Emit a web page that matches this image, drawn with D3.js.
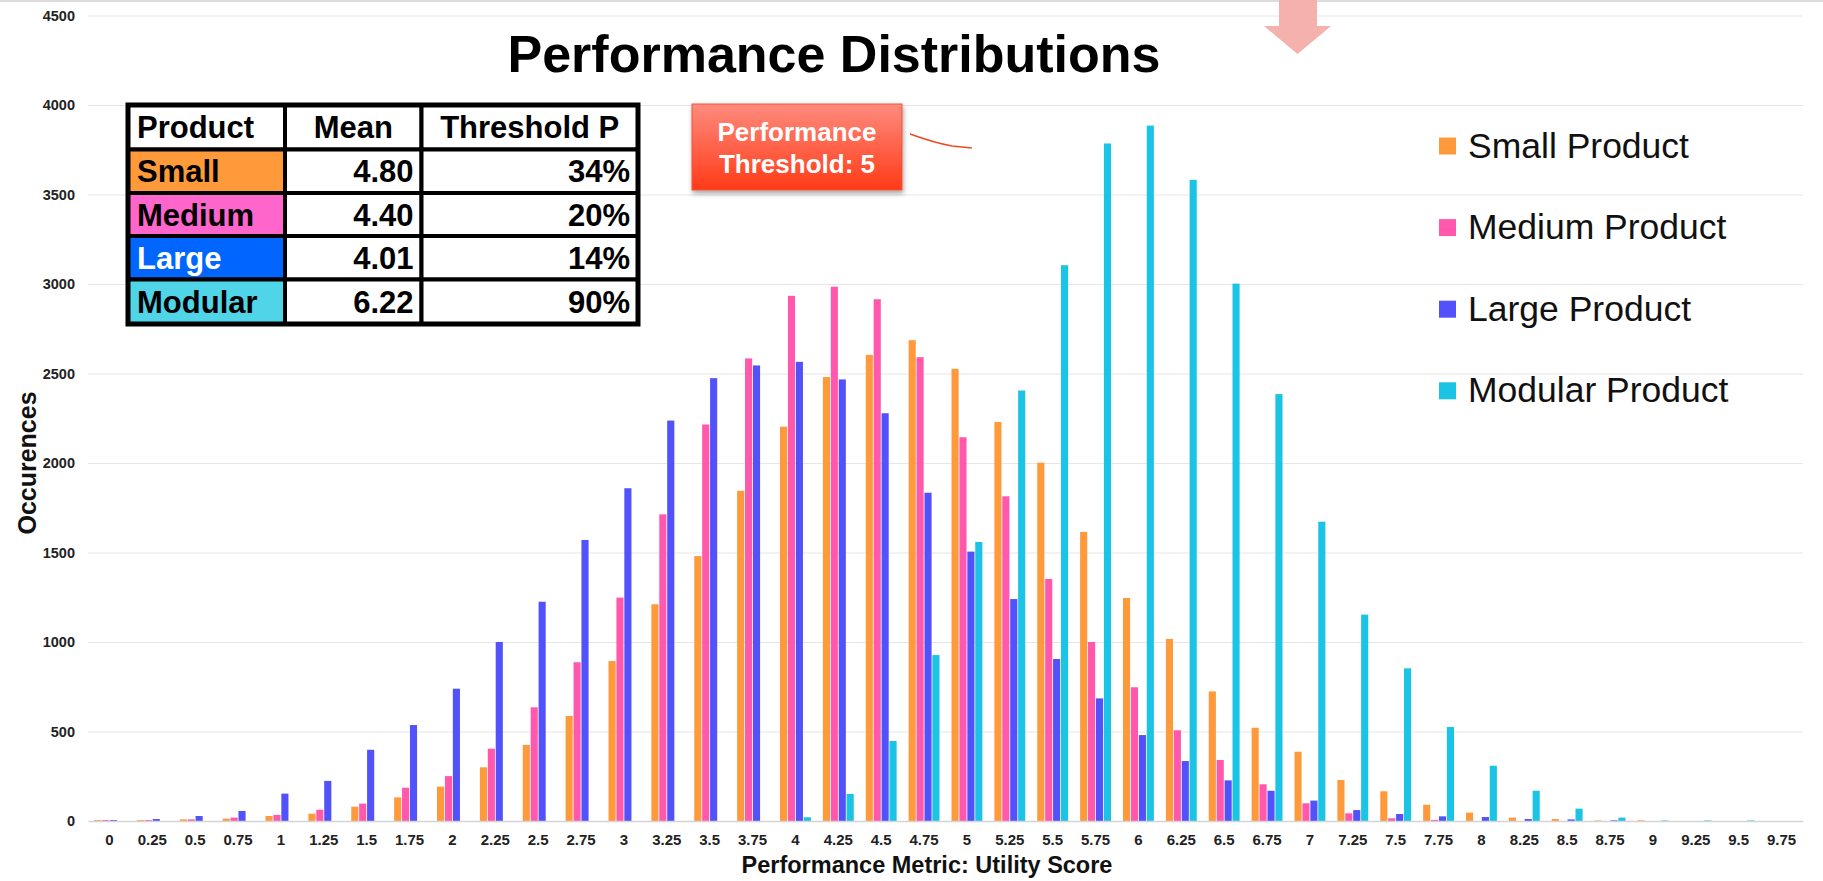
<!DOCTYPE html>
<html>
<head>
<meta charset="utf-8">
<script src="https://cdn.jsdelivr.net/npm/d3@7"></script>
<style>
  html, body { margin: 0; padding: 0; background: #ffffff; }
  svg { display: block; font-family: "Liberation Sans", Arial, Helvetica, sans-serif; }
</style>
</head>
<body>
<svg id="chart" width="1823" height="881"></svg>
<script>
// ---- data ----
const categories = ["0","0.25","0.5","0.75","1","1.25","1.5","1.75","2","2.25","2.5","2.75","3","3.25","3.5","3.75","4","4.25","4.5","4.75","5","5.25","5.5","5.75","6","6.25","6.5","6.75","7","7.25","7.5","7.75","8","8.25","8.5","8.75","9","9.25","9.5","9.75"];

const smallProduct   = [5, 5, 9, 13, 28, 41, 80, 132, 192, 300, 425, 587, 894, 1211, 1480, 1845, 2203, 2480, 2604, 2686, 2526, 2229, 2002, 1615, 1246, 1017, 724, 521, 387, 229, 166, 91, 47, 19, 11, 3, 4, 0, 0, 0];
const mediumProduct  = [5, 5, 9, 19, 34, 63, 97, 186, 251, 404, 635, 887, 1248, 1713, 2215, 2584, 2934, 2985, 2915, 2591, 2144, 1814, 1352, 1000, 747, 507, 341, 205, 99, 43, 15, 6, 0, 0, 0, 0, 0, 0, 0, 0];
const largeProduct   = [5, 11, 28, 56, 153, 224, 398, 536, 739, 1000, 1225, 1570, 1859, 2237, 2474, 2545, 2565, 2467, 2278, 1834, 1505, 1240, 905, 685, 480, 335, 227, 169, 114, 61, 39, 26, 22, 11, 9, 4, 0, 0, 0, 0];
const modularProduct = [0, 0, 0, 0, 0, 0, 0, 0, 0, 0, 0, 0, 0, 0, 0, 0, 21, 151, 447, 927, 1559, 2405, 3105, 3785, 3885, 3582, 3002, 2385, 1672, 1153, 853, 525, 309, 169, 69, 19, 3, 3, 3, 0];

const seriesNames  = ["Small Product", "Medium Product", "Large Product", "Modular Product"];
const seriesColors = ["#ff9a3c", "#ff58ad", "#5252fb", "#1bc4e5"];
const yTicks = [0, 500, 1000, 1500, 2000, 2500, 3000, 3500, 4000, 4500];

// summary table
const tableHeader   = ["Product", "Mean", "Threshold P"];
const tableProducts = ["Small", "Medium", "Large", "Modular"];
const tableMeans    = ["4.80", "4.40", "4.01", "6.22"];
const tableThreshP  = ["34%", "20%", "14%", "90%"];
const tableFills    = ["#ff9a3a", "#ff66cc", "#0066ff", "#4fd4e8"];
const tableTextFill = ["#000", "#000", "#fff", "#000"];

const threshold = "5";
const thresholdLabel = ["Performance", "Threshold: " + threshold];

const chartTitle = "Performance Distributions";
const xTitle = "Performance Metric: Utility Score";
const yTitle = "Occurences";

// ---- layout ----
const svg = d3.select("#chart");
const W = 1823, H = 881;
const plot = { left: 88, right: 1803, top: 15.5, bottom: 821 };

const rows = categories.map((c, i) => ({
  cat: c,
  values: [smallProduct[i], mediumProduct[i], largeProduct[i], modularProduct[i]]
}));

const x0 = d3.scaleBand().domain(categories).range([plot.left, plot.right])
  .paddingInner(0.28).paddingOuter(0.14);
const x1 = d3.scaleBand().domain(d3.range(seriesNames.length)).range([0, x0.bandwidth()])
  .paddingInner(0.1);
const y = d3.scaleLinear().domain([0, 4500]).range([plot.bottom, plot.top]);

const defs = svg.append("defs");
const shadow = defs.append("filter").attr("id", "shadow")
  .attr("x", "-20%").attr("y", "-20%").attr("width", "140%").attr("height", "150%");
shadow.append("feDropShadow").attr("dx", 1).attr("dy", 3).attr("stdDeviation", 2.5)
  .attr("flood-color", "#000").attr("flood-opacity", 0.35);
const lineShadow = defs.append("filter").attr("id", "lineShadow")
  .attr("x", "-200%").attr("y", "-5%").attr("width", "500%").attr("height", "110%");
lineShadow.append("feDropShadow").attr("dx", 2).attr("dy", 1).attr("stdDeviation", 1.5)
  .attr("flood-color", "#000").attr("flood-opacity", 0.25);
const grad = defs.append("linearGradient").attr("id", "boxGrad")
  .attr("x1", 0).attr("y1", 0).attr("x2", 0).attr("y2", 1);
grad.append("stop").attr("offset", "0%").attr("stop-color", "#ff8b7d");
grad.append("stop").attr("offset", "100%").attr("stop-color", "#ff3a17");

// top rule
svg.append("line").attr("x1", 0).attr("x2", W).attr("y1", 1).attr("y2", 1)
  .attr("stroke", "#dcdcdc").attr("stroke-width", 2);

// ---- gridlines + y axis ----
const yAxis = svg.append("g").attr("transform", `translate(${plot.left},0)`)
  .call(d3.axisLeft(y).tickValues(yTicks).tickFormat(d3.format("d"))
    .tickSize(-(plot.right - plot.left)).tickPadding(13));
yAxis.select(".domain").remove();
yAxis.selectAll(".tick line").attr("stroke", "#e6e6e6").attr("stroke-width", 1);
yAxis.selectAll(".tick text").attr("font-size", 14.5).attr("font-weight", "bold")
  .attr("fill", "#222").attr("font-family", "'Liberation Sans', Arial, sans-serif");

// ---- bars ----
const groups = svg.append("g").selectAll("g").data(rows).join("g")
  .attr("transform", d => `translate(${x0(d.cat)},0)`);
groups.selectAll("rect").data(d => d.values.map((v, k) => ({ v, k }))).join("rect")
  .attr("x", d => x1(d.k))
  .attr("width", x1.bandwidth())
  .attr("y", d => y(d.v))
  .attr("height", d => plot.bottom - y(d.v))
  .attr("fill", d => seriesColors[d.k]);

// ---- x axis ----
const xAxis = svg.append("g").attr("transform", `translate(0,${plot.bottom})`)
  .call(d3.axisBottom(x0).tickSize(0).tickPadding(13));
xAxis.select(".domain").attr("stroke", "#d4d4d4").attr("stroke-width", 1.5);
xAxis.selectAll(".tick text").attr("font-size", 15).attr("font-weight", "bold")
  .attr("fill", "#222").attr("font-family", "'Liberation Sans', Arial, sans-serif");

// ---- titles ----
svg.append("text").attr("x", 834).attr("y", 72).attr("text-anchor", "middle")
  .attr("font-size", 52).attr("font-weight", "bold").attr("fill", "#000").text(chartTitle);
svg.append("text").attr("x", 927).attr("y", 873).attr("text-anchor", "middle")
  .attr("font-size", 23.5).attr("font-weight", "bold").attr("fill", "#111").text(xTitle);
svg.append("text").attr("transform", "translate(36,463) rotate(-90)").attr("text-anchor", "middle")
  .attr("font-size", 25).attr("font-weight", "bold").attr("fill", "#111").text(yTitle);

// ---- threshold marker ----
const tx = x0(threshold) + x0.bandwidth() + 3.5;
svg.append("line").attr("x1", tx).attr("x2", tx).attr("y1", 85).attr("y2", plot.bottom)
  .attr("stroke", "#f04a22").attr("stroke-width", 5).attr("filter", "url(#lineShadow)");

svg.append("path")
  .attr("d", `M910,134 Q935,143 952,146 L${tx - 14},148`)
  .attr("fill", "none").attr("stroke", "#f04a22").attr("stroke-width", 1.6);

const box = svg.append("g");
box.append("rect").attr("x", 692).attr("y", 104).attr("width", 210).attr("height", 86)
  .attr("fill", "url(#boxGrad)").attr("stroke", "#f0533a").attr("stroke-width", 1)
  .attr("filter", "url(#shadow)");
box.selectAll("text").data(thresholdLabel).join("text")
  .attr("x", 797).attr("y", (d, i) => 141 + i * 31.5).attr("text-anchor", "middle")
  .attr("font-size", 26).attr("font-weight", "bold").attr("fill", "#fff").text(d => d);

// ---- arrow at top ----
svg.append("path")
  .attr("d", "M1279,0 L1317,0 L1317,26 L1331,26 L1297.5,54 L1264,26 L1279,26 Z")
  .attr("fill", "#f5b1ab");

// ---- legend ----
const legend = svg.append("g").selectAll("g").data(seriesNames).join("g")
  .attr("transform", (d, i) => `translate(1439,${146 + i * 81.6})`);
legend.append("rect").attr("x", 0).attr("y", -8.5).attr("width", 17).attr("height", 17)
  .attr("fill", (d, i) => seriesColors[i]);
legend.append("text").attr("x", 29).attr("y", 11.5).attr("font-size", 35.5)
  .attr("fill", "#111").text(d => d);

// ---- summary table ----
const colX = [128, 285, 421.5, 638];
const rowY = [105, 149.5, 193, 236, 279.5, 324];
const tbl = svg.append("g");
const cells = [];
for (let r = 0; r < 5; r++) {
  for (let c = 0; c < 3; c++) {
    let txt, fill = "#fff", tfill = "#000", anchor = "start";
    if (r === 0) { txt = tableHeader[c]; anchor = c === 0 ? "start" : "middle"; }
    else {
      const k = r - 1;
      if (c === 0) { txt = tableProducts[k]; fill = tableFills[k]; tfill = tableTextFill[k]; }
      else { txt = c === 1 ? tableMeans[k] : tableThreshP[k]; anchor = "end"; }
    }
    cells.push({ r, c, txt, fill, tfill, anchor });
  }
}
tbl.selectAll("rect.cell").data(cells).join("rect").attr("class", "cell")
  .attr("x", d => colX[d.c]).attr("y", d => rowY[d.r])
  .attr("width", d => colX[d.c + 1] - colX[d.c]).attr("height", d => rowY[d.r + 1] - rowY[d.r])
  .attr("fill", d => d.fill).attr("stroke", "#000").attr("stroke-width", 4);
tbl.append("rect").attr("x", colX[0]).attr("y", rowY[0])
  .attr("width", colX[3] - colX[0]).attr("height", rowY[5] - rowY[0])
  .attr("fill", "none").attr("stroke", "#000").attr("stroke-width", 5);
tbl.selectAll("text").data(cells).join("text")
  .attr("x", d => d.anchor === "start" ? colX[d.c] + 9 : d.anchor === "end" ? colX[d.c + 1] - 8 : (colX[d.c] + colX[d.c + 1]) / 2)
  .attr("y", d => (rowY[d.r] + rowY[d.r + 1]) / 2 + 11)
  .attr("text-anchor", d => d.anchor)
  .attr("font-size", 31).attr("font-weight", "bold").attr("fill", d => d.tfill)
  .text(d => d.txt);
</script>
</body>
</html>
